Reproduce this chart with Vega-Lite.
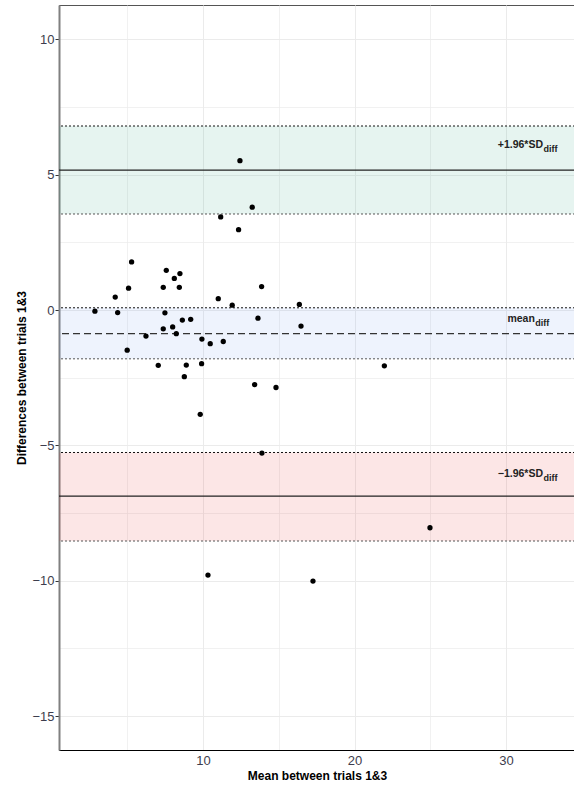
{
  "$schema": "https://vega.github.io/schema/vega-lite/v6.json",
  "width": 516,
  "height": 745,
  "autosize": {"type": "none"},
  "padding": {"left": 59, "top": 5, "right": 0, "bottom": 36},
  "background": "white",
  "config": {
    "view": {"stroke": "#555555", "strokeWidth": 1},
    "font": "Liberation Sans"
  },
  "datasets": {
    "points": [
      {"x": 2.87, "y": -0.04}, {"x": 4.21, "y": 0.48}, {"x": 4.37, "y": -0.09},
      {"x": 5.09, "y": 0.81}, {"x": 5.29, "y": 1.78}, {"x": 5.0, "y": -1.48},
      {"x": 6.24, "y": -0.96}, {"x": 7.05, "y": -2.04}, {"x": 7.38, "y": 0.84},
      {"x": 7.58, "y": 1.47}, {"x": 7.49, "y": -0.10}, {"x": 7.38, "y": -0.69},
      {"x": 8.11, "y": 1.17}, {"x": 8.48, "y": 1.35}, {"x": 8.44, "y": 0.84},
      {"x": 8.0, "y": -0.62}, {"x": 8.24, "y": -0.87}, {"x": 8.64, "y": -0.37},
      {"x": 9.19, "y": -0.34}, {"x": 8.90, "y": -2.03}, {"x": 8.77, "y": -2.46},
      {"x": 9.93, "y": -1.07}, {"x": 10.48, "y": -1.24}, {"x": 11.34, "y": -1.16},
      {"x": 9.91, "y": -1.98}, {"x": 9.82, "y": -3.85}, {"x": 11.01, "y": 0.42},
      {"x": 11.93, "y": 0.18}, {"x": 12.35, "y": 2.97}, {"x": 13.87, "y": 0.87},
      {"x": 13.63, "y": -0.30}, {"x": 16.36, "y": 0.21}, {"x": 16.47, "y": -0.59},
      {"x": 13.41, "y": -2.75}, {"x": 14.82, "y": -2.86}, {"x": 21.97, "y": -2.06},
      {"x": 12.44, "y": 5.52}, {"x": 13.25, "y": 3.80}, {"x": 11.17, "y": 3.44},
      {"x": 24.98, "y": -8.04}, {"x": 13.89, "y": -5.28}, {"x": 10.33, "y": -9.79},
      {"x": 17.26, "y": -10.01}
    ],
    "bands": [
      {"band": "upper", "lo": 3.55, "hi": 6.80, "est": 5.17},
      {"band": "mean", "lo": -1.80, "hi": 0.085, "est": -0.87},
      {"band": "lower", "lo": -8.53, "hi": -5.26, "est": -6.87}
    ],
    "labels": [
      {"main": "+1.96*SD", "sub": "diff", "lx": 32.44, "ly": 5.98},
      {"main": "mean", "sub": "diff", "lx": 31.9, "ly": -0.44},
      {"main": "\u22121.96*SD", "sub": "diff", "lx": 32.44, "ly": -6.17}
    ]
  },
  "layer": [
    {
      "data": {"name": "bands"},
      "mark": {"type": "rect", "fillOpacity": 0.11},
      "encoding": {
        "y": {
          "field": "lo", "type": "quantitative",
          "scale": {"domain": [-16.25, 11.27], "nice": false, "zero": false},
          "axis": {
            "title": "Differences between trials 1&3",
            "titleFontSize": 12, "titleFontWeight": "bold", "titleColor": "#000000",
            "titlePadding": 3,
            "values": [-15, -12.5, -10, -7.5, -5, -2.5, 0, 2.5, 5, 7.5, 10],
            "labelExpr": "datum.value % 5 == 0 ? datum.label : ''",
            "labelFontSize": 13, "labelColor": "#3d3d4d", "labelPadding": 1,
            "tickSize": 4, "tickColor": "#333333",
            "tickOpacity": {"condition": {"test": "datum.value % 5 == 0", "value": 1}, "value": 0},
            "grid": true, "gridColor": "#ebebeb",
            "gridWidth": {"condition": {"test": "datum.value % 5 == 0", "value": 1}, "value": 0.7},
            "domainColor": "#808080", "domainWidth": 2
          }
        },
        "y2": {"field": "hi"},
        "color": {
          "field": "band", "type": "nominal", "legend": null,
          "scale": {"domain": ["upper", "mean", "lower"], "range": ["#1b9e77", "#6495ed", "#e41a1c"]}
        }
      }
    },
    {
      "data": {"name": "bands"},
      "mark": {"type": "rule", "strokeDash": [2, 2], "strokeWidth": 1, "color": "#111111"},
      "encoding": {"y": {"field": "hi", "type": "quantitative"}}
    },
    {
      "data": {"name": "bands"},
      "mark": {"type": "rule", "strokeDash": [2, 2], "strokeWidth": 1, "color": "#555555"},
      "encoding": {"y": {"field": "lo", "type": "quantitative"}}
    },
    {
      "data": {"name": "bands"},
      "transform": [{"filter": "datum.band != 'mean'"}],
      "mark": {"type": "rule", "strokeWidth": 1.2, "color": "#222222"},
      "encoding": {"y": {"field": "est", "type": "quantitative"}}
    },
    {
      "data": {"name": "bands"},
      "transform": [{"filter": "datum.band == 'mean'"}],
      "mark": {"type": "rule", "strokeWidth": 1.1, "strokeDash": [7, 4], "color": "#333333"},
      "encoding": {"y": {"field": "est", "type": "quantitative"}}
    },
    {
      "data": {"name": "points"},
      "mark": {"type": "point", "filled": true, "color": "#000000", "opacity": 1, "size": 28},
      "encoding": {
        "x": {
          "field": "x", "type": "quantitative",
          "scale": {"domain": [0.5, 34.55], "nice": false, "zero": false},
          "axis": {
            "title": "Mean between trials 1&3",
            "titleFontSize": 12, "titleFontWeight": "bold", "titleColor": "#000000",
            "titlePadding": 3,
            "values": [5, 10, 15, 20, 25, 30],
            "labelExpr": "datum.value % 10 == 0 ? datum.label : ''",
            "labelFontSize": 13, "labelColor": "#3d3d4d", "labelPadding": 4,
            "ticks": false,
            "grid": true, "gridColor": "#ebebeb",
            "gridWidth": {"condition": {"test": "datum.value % 10 == 0", "value": 1}, "value": 0.7},
            "domainColor": "#000000", "domainWidth": 1.2
          }
        },
        "y": {"field": "y", "type": "quantitative"}
      }
    },
    {
      "data": {"name": "labels"},
      "mark": {"type": "text", "align": "right", "baseline": "alphabetic", "fontSize": 10.5, "fontWeight": "bold", "color": "#222222"},
      "encoding": {
        "x": {"field": "lx", "type": "quantitative"},
        "y": {"field": "ly", "type": "quantitative"},
        "text": {"field": "main"}
      }
    },
    {
      "data": {"name": "labels"},
      "mark": {"type": "text", "align": "left", "baseline": "alphabetic", "fontSize": 9, "fontWeight": "bold", "color": "#222222", "dy": 3.5, "dx": 0.5},
      "encoding": {
        "x": {"field": "lx", "type": "quantitative"},
        "y": {"field": "ly", "type": "quantitative"},
        "text": {"field": "sub"}
      }
    }
  ]
}
